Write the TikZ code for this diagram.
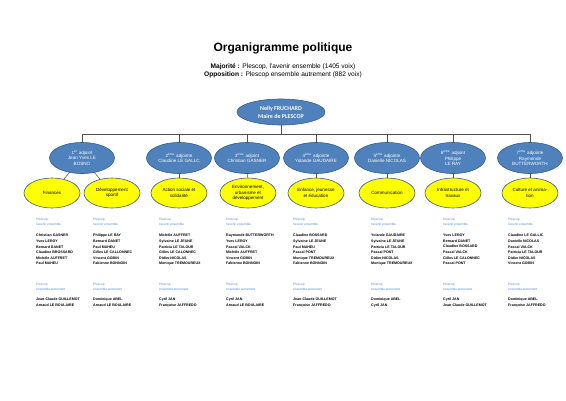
\documentclass[tikz,border=0pt]{standalone}
\usepackage{fontspec}
\setmainfont{Liberation Sans}
\newfontfamily\calib{Carlito}
\usetikzlibrary{shapes.geometric}
\definecolor{bfill}{RGB}{79,129,189}
\definecolor{bdraw}{RGB}{56,93,138}
\definecolor{yfill}{RGB}{255,255,0}
\definecolor{lblue}{RGB}{84,141,212}
\definecolor{lgray}{RGB}{80,80,80}
\begin{document}
\begin{tikzpicture}[x=1pt,y=-1pt,
 topell/.style={ellipse, draw=bdraw, fill=bfill, line width=0.6pt, minimum width=88pt, minimum height=26pt, inner sep=0pt, text=white, align=center, font=\calib\fontsize{6}{8}\selectfont\bfseries},
 blueell/.style={ellipse, draw=bdraw, fill=bfill, line width=0.6pt, minimum width=65pt, minimum height=31pt, inner sep=0pt, text=white, align=center, font=\fontsize{4.6}{5.5}\selectfont},
 yellell/.style={ellipse, draw=bdraw, fill=yfill, line width=0.6pt, minimum width=56pt, minimum height=30pt, inner sep=0pt, align=center, font=\fontsize{4.5}{5.4}\selectfont},
 conn/.style={draw=lgray, line width=0.5pt},
 lab/.style={anchor=north west, inner sep=0pt, align=left, text=lblue, font=\fontsize{3.2}{5.8}\selectfont},
 names/.style={anchor=north west, inner sep=0pt, align=left, font=\fontsize{3.6}{5.6}\selectfont\bfseries},
]
\useasboundingbox[fill=white] (0,0) rectangle (566,400);

\node[font=\fontsize{12}{14}\selectfont\bfseries] (title) at (283,48) {Organigramme politique};
\node[font=\fontsize{6.6}{8.4}\selectfont, align=center] (sub) at (283,70.5) {\textbf{Majorité :} Plescop, l'avenir ensemble (1405 voix)\\ \textbf{Opposition :} Plescop ensemble autrement (882 voix)};

\node[topell] (top) at (281,112) {Nelly FRUCHARD\\Maire de PLESCOP};

\coordinate (hl) at (82,134);
\coordinate (hr) at (530,134);
\coordinate (hm) at (281,134);

\node[blueell] (b1) at (82,158) {1\textsuperscript{er} adjoint\\Jean Yves LE\\BOSNO};
\node[blueell] (b2) at (179,158) {2\textsuperscript{ème} adjointe\\Claudine LE GALLC};
\node[blueell] (b3) at (247,158) {3\textsuperscript{ème} adjoint\\Christian GASNER};
\node[blueell] (b4) at (316,158) {4\textsuperscript{ème} adjointe\\Yolande GAUDAIRE};
\node[blueell] (b5) at (387,158) {5\textsuperscript{ème} adjointe\\Danielle NICOLAS};
\node[blueell] (b6) at (453,158) {6\textsuperscript{ème} adjoint\\Philippe\\LE RAY};
\node[blueell] (b7) at (530,158) {7\textsuperscript{ème} adjointe\\Raymonde\\BUTTERWORTH};

\node[yellell] (y1) at (52,193) {Finances};
\node[yellell] (y2) at (112,193) {Développement\\sportif};
\node[yellell] (y3) at (179,193) {Action sociale et\\solidarité};
\node[yellell] (y4) at (248,193) {Environnement,\\urbanisme et\\développement};
\node[yellell] (y5) at (316,193) {Enfance, jeunesse\\et éducation};
\node[yellell] (y6) at (387,193) {Communication};
\node[yellell] (y7) at (453,193) {Infrastructure et\\travaux};
\node[yellell] (y8) at (530,193) {Culture et anima-\\tion};

\draw[conn] (top.south) -- (hm);
\draw[conn] (hl) -- (hr);
\foreach \b in {b1,b2,b3,b4,b5,b6,b7} {\draw[conn] (\b.north |- hl) -- (\b.north);}
\draw[conn] (b1) -- (y1);
\draw[conn] (b1) -- (y2);
\draw[conn] (b2) -- (y3);
\draw[conn] (b3) -- (y4);
\draw[conn] (b4) -- (y5);
\draw[conn] (b5) -- (y6);
\draw[conn] (b6) -- (y7);
\draw[conn] (b7) -- (y8);

% column texts
\foreach \x/\n in {36/l1,93/l2,159/l3,226/l4,293/l5,371/l6,443/l7,508/l8} {
  \node[lab] (\n) at (\x,217.5) {Plescop,\\l'avenir ensemble};
}
\foreach \x/\n in {36/m1,93/m2,159/m3,226/m4,293/m5,371/m6,443/m7,508/m8} {
  \node[lab] (\n) at (\x,282.5) {Plescop\\ensemble autrement};
}
\node[names] (n1) at (36,234) {Christian GASNER\\Yves LEROY\\Bernard DANET\\Claudine BROSSARD\\Michèle AUFFRET\\Paul MAHEU};
\node[names] (n2) at (93,234) {Philippe LE RAY\\Bernard DANET\\Paul MAHEU\\Gilles LE CALLONNEC\\Vincent GOBIN\\Fabienne BONNOIN};
\node[names] (n3) at (159,234) {Michèle AUFFRET\\Sylvaine LE JEUNE\\Patricia LE TALOUR\\Gilles LE CALONNEC\\Didier NICOLAS\\Monique TREMOUREUX};
\node[names] (n4) at (226,234) {Raymonde BUTTERWORTH\\Yves LEROY\\Pascal VALCK\\Michèle AUFFRET\\Vincent GOBIN\\Fabienne BONNOIN};
\node[names] (n5) at (293,234) {Claudine BOSSARD\\Sylvaine LE JEUNE\\Paul MAHEU\\Pascal PONT\\Monique TREMOUREUX\\Fabienne BONNOIN};
\node[names] (n6) at (371,234) {Yolande GAUDAIRE\\Sylvaine LE JEUNE\\Patricia LE TALOUR\\Pascal PONT\\Didier NICOLAS\\Monique TREMOUREUX};
\node[names] (n7) at (443,234) {Yves LEROY\\Bernard DANET\\Claudine BOSSARD\\Pascal VALCK\\Gilles LE CALONNEC\\Pascal PONT};
\node[names] (n8) at (508,234) {Claudine LE GALLIC\\Danielle NICOLAS\\Pascal VALCK\\Patricia LE TALOUR\\Didier NICOLAS\\Vincent GOBIN};

\node[names] (o1) at (36,298) {Jean-Claude GUILLEMOT\\Arnaud LE BOULAIRE};
\node[names] (o2) at (93,298) {Dominique ABEL\\Arnaud LE BOULAIRE};
\node[names] (o3) at (159,298) {Cyril JAN\\Françoise JAFFREDO};
\node[names] (o4) at (226,298) {Cyril JAN\\Arnaud LE BOULAIRE};
\node[names] (o5) at (293,298) {Jean-Claude GUILLEMOT\\Françoise JAFFREDO};
\node[names] (o6) at (371,298) {Dominique ABEL\\Cyril JAN};
\node[names] (o7) at (443,298) {Cyril JAN\\Jean-Claude GUILLEMOT};
\node[names] (o8) at (508,298) {Dominique ABEL\\Françoise JAFFREDO};
\end{tikzpicture}
\end{document}
